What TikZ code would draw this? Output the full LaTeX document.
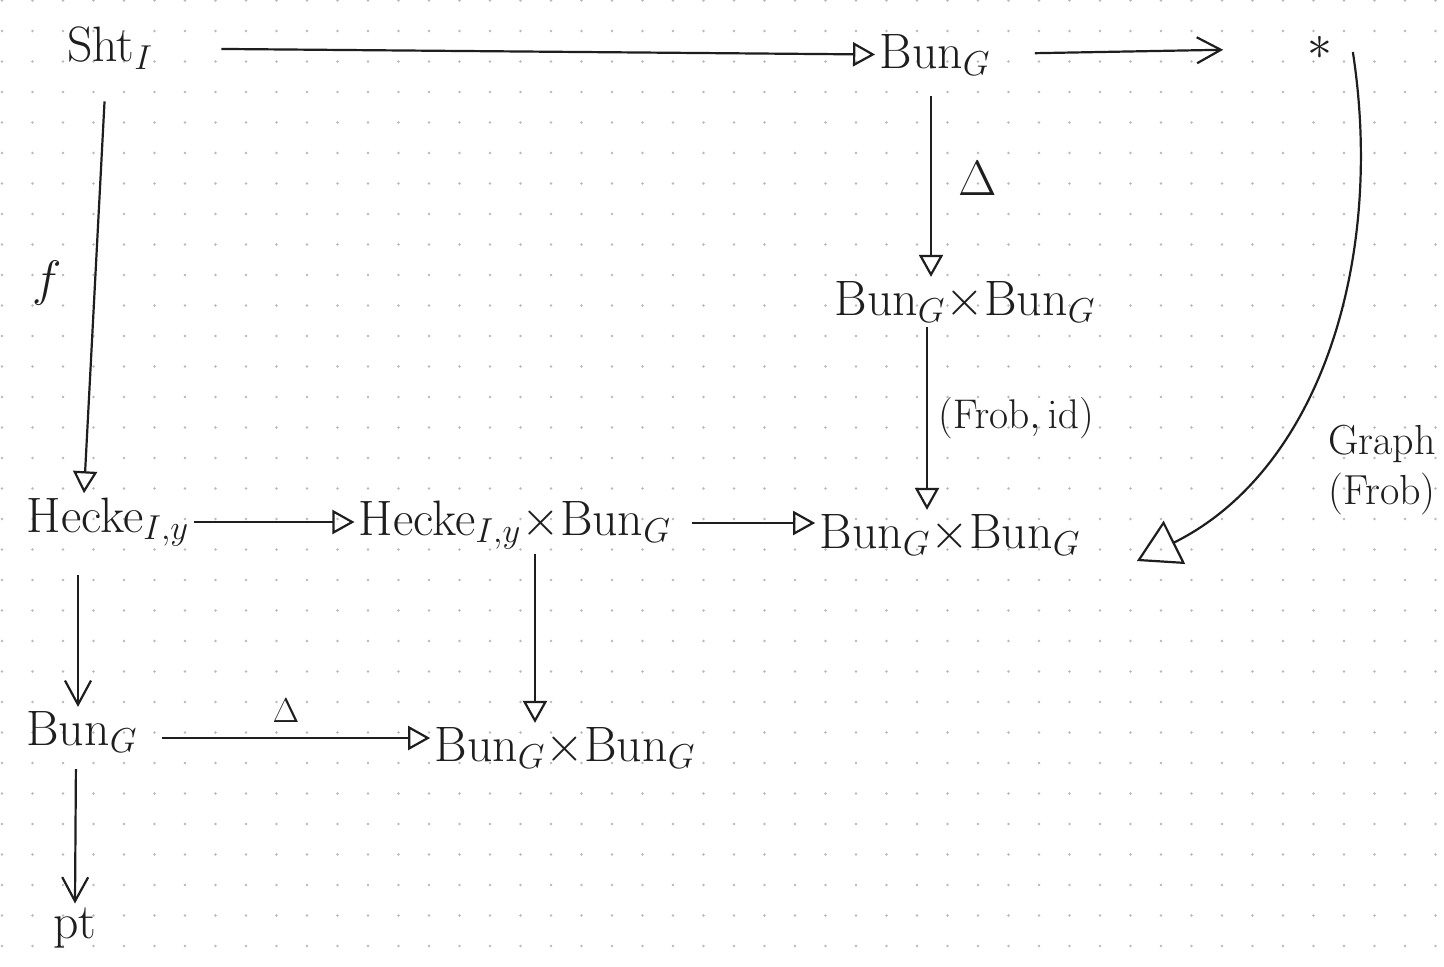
\documentclass[tikz,border=0pt]{standalone}
\usetikzlibrary{arrows.meta}
\definecolor{ink}{HTML}{1E1E1E}
\definecolor{dotc}{HTML}{BDB8B8}
\begin{document}
\begin{tikzpicture}[x=0.5pt,y=-0.5pt,
  obj/.style={text=ink, font=\fontsize{27}{32}\selectfont, inner sep=2pt},
  lab/.style={text=ink, font=\fontsize{21}{25}\selectfont, inner sep=1pt},
  arr/.style={draw=ink, line width=1.1pt, -{Triangle[open,length=11pt,width=12pt,line width=1.1pt]}},
  bigarr/.style={draw=ink, line width=1.1pt, -{Triangle[open,length=21pt,width=24pt,line width=1.1pt]}},
  barb/.style={draw=ink, line width=1.1pt, -{Straight Barb[length=12pt,width=13pt,line width=1.1pt]}},
]
\useasboundingbox (0,0) rectangle (1444,966);
\fill[white] (0,0) rectangle (1444,966);
\foreach \i in {0,...,47}{\foreach \j in {0,...,31}{\fill[dotc] (2+30.5*\i, 0.5+30.5*\j) circle (0.7pt);}}

% objects
\node[obj] (sht) at (110,48) {$\mathrm{Sht}_I$};
\node[obj] (bun) at (935,55) {$\mathrm{Bun}_G$};
\node[obj, font=\fontsize{36}{40}\selectfont] (star) at (1320,48) {$\ast$};
\node[obj] (bb1) at (965,302) {$\mathrm{Bun}_G{\times}\mathrm{Bun}_G$};
\node[obj] (hk) at (108,522) {$\mathrm{Hecke}_{I,y}$};
\node[obj] (hkb) at (515,525) {$\mathrm{Hecke}_{I,y}{\times}\mathrm{Bun}_G$};
\node[obj] (bb2) at (950,535) {$\mathrm{Bun}_G{\times}\mathrm{Bun}_G$};
\node[obj] (bunl) at (82,732) {$\mathrm{Bun}_G$};
\node[obj] (bb3) at (565,748) {$\mathrm{Bun}_G{\times}\mathrm{Bun}_G$};
\node[obj] (pt) at (75,928) {$\mathrm{pt}$};
\node[lab, align=center] (gl) at (1382,470) {Graph\\(Frob)};

% connectors
\draw[arr, shorten <=32pt] (sht) -- (bun);
\draw[barb, shorten <=20pt, shorten >=40pt] (bun) -- (star);
\draw[arr, shorten <=8pt] ([xshift=-2pt]bun.south) -- ([xshift=-2pt]bun.south |- bb1.north)
  node[midway, right, xshift=10pt, text=ink, font=\fontsize{24}{28}\selectfont] {$\Delta$};
\draw[arr] ([xshift=-4pt]bun.south |- bb1.south) -- ([xshift=-4pt]bun.south |- bb2.north)
  node[midway, right, xshift=4pt, lab] {$(\mathrm{Frob},\mathrm{id})$};
\draw[arr, shorten <=14pt] ([xshift=-2pt]sht.south) -- ([xshift=-12pt]hk.north)
  node[midway, left, xshift=-14pt, obj] {$f$};
\draw[arr] (hk.east) -- (hk.east -| hkb.west);
\draw[arr, shorten <=8pt] ([yshift=1pt]hkb.east) -- ([yshift=1pt]hkb.east -| bb2.west);
\draw[bigarr] ([xshift=8pt,yshift=-2pt]star.east) .. controls (1385,260) and (1320,470) .. ([xshift=26pt,yshift=-13pt]bb2.east);
\draw[barb, shorten <=12pt] ([xshift=-2pt]bunl.north |- hk.south) -- ([xshift=-2pt]bunl.north);
\draw[arr] ([xshift=10pt]hkb.south) -- ([xshift=10pt]hkb.south |- bb3.north);
\draw[arr, shorten <=10pt] ([yshift=-3pt]bunl.east) -- ([yshift=-3pt]bunl.east -| bb3.west)
  node[midway, above, yshift=4pt, text=ink, font=\fontsize{16}{18}\selectfont] {$\Delta$};
\draw[barb, shorten <=6pt] ([xshift=-3pt]bunl.south) -- (pt.north);
\end{tikzpicture}
\end{document}
